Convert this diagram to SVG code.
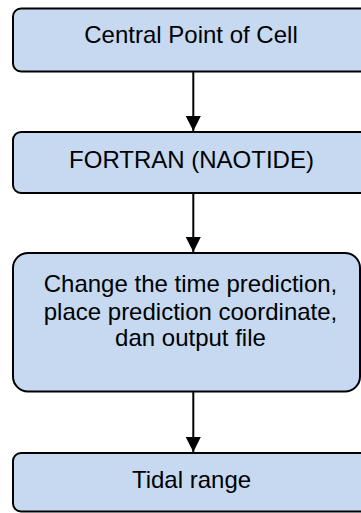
<svg xmlns="http://www.w3.org/2000/svg" width="361" height="513" viewBox="0 0 361 513">
  <defs>
    <style>
      .box { fill: #C6D9F1; stroke: #000; stroke-width: 2; }
      .lbl { font-family: "Liberation Sans", Arial, sans-serif; font-size: 24px; fill: #000; text-anchor: middle; }
      .edge { stroke: #000; stroke-width: 2; fill: none; }
    </style>
    <marker id="ah" markerWidth="15" markerHeight="15" refX="15" refY="7.5" orient="auto" markerUnits="userSpaceOnUse">
      <path d="M0,0 L15,7.5 L0,15 Z" fill="#000"/>
    </marker>
  </defs>
  <rect width="361" height="513" fill="#fff"/>
  <g id="node-central">
    <rect class="box" x="13" y="8.5" width="361" height="63" rx="8" ry="8"/>
    <text class="lbl" x="191" y="43">Central Point of Cell</text>
  </g>
  <g id="node-fortran">
    <rect class="box" x="13" y="132" width="361" height="61" rx="8" ry="8"/>
    <text class="lbl" x="191.5" y="168">FORTRAN (NAOTIDE)</text>
  </g>
  <g id="node-change">
    <rect class="box" x="13" y="253" width="347" height="138.5" rx="15" ry="15"/>
    <text class="lbl" x="190.5" y="291.5">Change the time prediction,</text>
    <text class="lbl" x="190.5" y="319.5">place prediction coordinate,</text>
    <text class="lbl" x="190.5" y="345.5">dan output file</text>
  </g>
  <g id="node-tidal">
    <rect class="box" x="13" y="453" width="361" height="58.5" rx="8" ry="8"/>
    <text class="lbl" x="191.5" y="487.5">Tidal range</text>
  </g>
  <g id="connectors">
    <line class="edge" x1="193.3" y1="72" x2="193.3" y2="131" marker-end="url(#ah)"/>
    <line class="edge" x1="193.3" y1="194" x2="193.3" y2="252" marker-end="url(#ah)"/>
    <line class="edge" x1="193.3" y1="392" x2="193.3" y2="452" marker-end="url(#ah)"/>
  </g>
</svg>
